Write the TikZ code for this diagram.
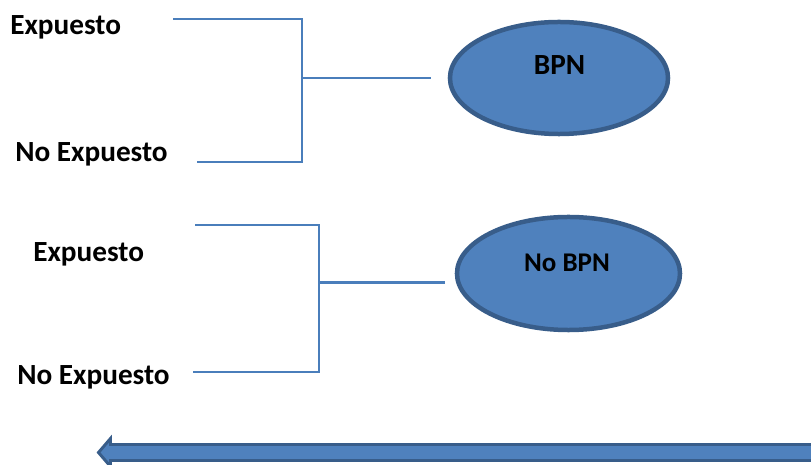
\documentclass[tikz,border=0pt]{standalone}
\usepackage{fontspec}
\setmainfont{Carlito}
\usetikzlibrary{shapes.geometric}
\usepackage{xcolor}
\definecolor{ovalfill}{HTML}{4F81BD}
\definecolor{ovaledge}{HTML}{385D8A}
\definecolor{brkline}{HTML}{4A7EBB}

\begin{document}
\begin{tikzpicture}[x=0.025cm,y=-0.025cm,
  lbl/.style={font=\fontsize{20.8}{25}\selectfont\bfseries,inner sep=0pt,anchor=base west},
  oval/.style={ellipse,draw=ovaledge,fill=ovalfill,line width=3.2pt,inner sep=0pt},
  brk/.style={brkline,line width=1.6pt},
  line cap=butt]
\useasboundingbox (0,0) rectangle (811,465);
\clip (0,0) rectangle (811,465);
\node[lbl] (exp1) at (10,35) {Expuesto};
\node[lbl] (noexp1) at (15,161.5) {No Expuesto};
\node[lbl] (exp2) at (33,262) {Expuesto};
\node[lbl] (noexp2) at (17,385) {No Expuesto};
\node[oval,minimum width=5.45cm,minimum height=2.8cm] (bpn) at (559,78) {};
\node[lbl,anchor=base] (bpnlbl) at (559.5,75) {BPN};
\node[oval,minimum width=5.575cm,minimum height=2.825cm] (nobpn) at (568.5,273.5) {};
\node[lbl,anchor=base,font=\fontsize{19.2}{23}\selectfont\bfseries] (nobpnlbl) at (567,271.5) {No BPN};
\coordinate (e1) at (173,19);
\coordinate (n1) at (197,162);
\coordinate (j1) at (302,78);
\draw[brk] (e1) -| (j1) -- ([xshift=-0.425cm]j1 -| bpn.west);
\draw[brk] (n1) -| (j1);
\coordinate (e2) at (195,225);
\coordinate (n2) at (193,372);
\coordinate (j2) at (319,282.5);
\draw[brk] (e2) -| (j2) -- ([xshift=-0.25cm]j2 -| nobpn.west);
\draw[brk] (n2) -| (j2);
\draw[ovaledge,fill=ovalfill,line width=2.1pt,line join=miter]
  (98.5,452.5) -- (110.5,438.5) -- (110.5,444.5) -- (830,444.5)
  -- (830,460.5) -- (110.5,460.5) -- (110.5,466.5) -- cycle;
\end{tikzpicture}
\end{document}
